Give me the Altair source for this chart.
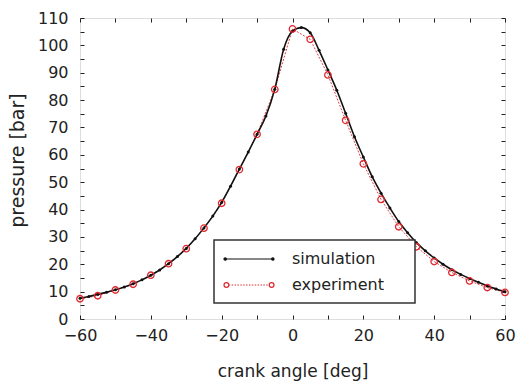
import altair as alt
import pandas as pd

# experiment (red circles), every 5 deg
exp_angle = [-60, -55, -50, -45, -40, -35, -30, -25, -20, -15, -10, -5, 0,
             5, 10, 15, 20, 25, 30, 35, 40, 45, 50, 55, 60]
exp_pressure = [7.4, 8.5, 10.6, 12.7, 16.0, 20.2, 25.7, 33.2, 42.3, 54.6, 67.5, 83.9, 106.0,
                102.2, 89.2, 72.6, 56.7, 43.7, 33.7, 26.4, 21.0, 17.0, 13.9, 11.5, 9.7]

# simulation (black line), every 2.5 deg
sim_angle = [-60, -57.5, -55, -52.5, -50, -47.5, -45, -42.5, -40, -37.5, -35, -32.5, -30,
             -27.5, -25, -22.5, -20, -17.5, -15, -12.5, -10, -7.5, -5, -2.5, 0, 2.5,
             5, 7.5, 10, 12.5, 15, 17.5, 20, 22.5, 25, 27.5, 30, 32.5, 35, 37.5,
             40, 42.5, 45, 47.5, 50, 52.5, 55, 57.5, 60]
sim_pressure = [7.6, 8.2, 9.0, 9.8, 10.7, 11.7, 12.9, 14.3, 16.0, 17.9, 20.2, 22.8, 25.8,
                29.3, 33.3, 37.6, 42.6, 48.5, 54.8, 61.0, 67.5, 74.2, 84.0, 98.6, 105.2, 106.5,
                104.6, 98.2, 91.0, 83.6, 75.2, 66.6, 59.2, 52.0, 46.0, 40.6, 35.6, 31.5, 27.9, 24.9,
                22.3, 20.0, 18.0, 16.3, 14.8, 13.4, 12.1, 11.0, 10.0]

series_names = ["simulation", "experiment"]
series_colors = ["#111111", "#e0282e"]

exp_df = pd.DataFrame({"angle": exp_angle, "pressure": exp_pressure, "series": "experiment"})
sim_df = pd.DataFrame({"angle": sim_angle, "pressure": sim_pressure, "series": "simulation"})

FONT = "DejaVu Sans"
INK = "#222222"
xscale = alt.Scale(domain=[-60, 60], nice=False, zero=False)
yscale = alt.Scale(domain=[0, 110], nice=False, zero=False)


# legend symbol glyphs (SVG paths in symbol units)
def circ(cx, r):
    return (f"M{cx + r:.3f},0A{r},{r},0,1,1,{cx - r:.3f},0"
            f"A{r},{r},0,1,1,{cx + r:.3f},0")


L = 3.125
sim_path = f"M{-L},0H{L}" + circ(-L + 0.15, 0.15) + circ(L - 0.15, 0.15)
rc = 0.3
dots = ""
xx = -L + 2 * rc
while xx < L - 2 * rc - 0.05:
    dots += f"M{xx:.3f},0H{min(xx + 0.18, L - 2 * rc):.3f}"
    xx += 0.36
exp_path = dots + circ(-L + rc, rc) + circ(L - rc, rc)

axis_common = dict(grid=False, domain=False, labelFlush=False, labelFont=FONT,
                   titleFont=FONT, labelColor=INK, titleColor=INK, tickColor=INK,
                   titleFontWeight="normal", labelFontSize=16)

x_bottom = alt.X("angle:Q", scale=xscale, title="crank angle [deg]",
                 axis=alt.Axis(values=list(range(-60, 61, 10)),
                               labelExpr="datum.value % 20 == 0 ? datum.label : ''",
                               tickSize={"expr": "-4"}, labelPadding=12,
                               titleFontSize=17, titlePadding=20, **axis_common))
y_left = alt.Y("pressure:Q", scale=yscale, title="pressure [bar]",
               axis=alt.Axis(values=list(range(0, 111, 5)),
                             labelExpr="datum.value % 10 == 0 ? datum.label : ''",
                             tickSize={"expr": "-4"}, labelPadding=16,
                             titleFontSize=19, titlePadding=10, titleY=142, **axis_common))
x_top = alt.X("angle:Q", scale=xscale,
              axis=alt.Axis(orient="top", values=list(range(-60, 61, 10)), labels=False,
                            title=None, tickSize={"expr": "-4"}, grid=False, domain=False,
                            tickColor=INK))
y_right = alt.Y("pressure:Q", scale=yscale,
                axis=alt.Axis(orient="right", values=list(range(0, 111, 5)), labels=False,
                              title=None, tickSize={"expr": "-4"}, grid=False, domain=False,
                              tickColor=INK))
x_none = alt.X("angle:Q", scale=xscale, axis=None)
y_none = alt.Y("pressure:Q", scale=yscale, axis=None)

exp_line = alt.Chart(exp_df).mark_line(color=series_colors[1], strokeWidth=0.9,
                                       strokeDash=[2, 1.5]).encode(x=x_bottom, y=y_left)
sim_line = alt.Chart(sim_df).mark_line(color=series_colors[0], strokeWidth=1.6,
                                       interpolate="monotone").encode(x=x_top, y=y_right)
sim_pts = alt.Chart(sim_df).mark_point(shape="circle", filled=True, size=9,
                                       color=series_colors[0], opacity=1).encode(x=x_none, y=y_none)
exp_pts = alt.Chart(exp_df).mark_point(shape="circle", filled=False, size=42, strokeWidth=1.3,
                                       color=series_colors[1], opacity=1).encode(x=x_none, y=y_none)

legend_opts = dict(title=None, orient="none", legendX=134, legendY=222,
                   symbolSize=256, symbolOffset=16, labelOffset=34,
                   padding=10, rowPadding=9, strokeColor="#333333",
                   fillColor="white", labelFontSize=16, labelFont=FONT,
                   labelColor=INK, symbolStrokeWidth=1.2,
                   symbolFillColor="transparent",
                   labelExpr="datum.label + '\u00a0\u00a0\u00a0\u00a0\u200b'")

legend_layer = alt.Chart(exp_df).transform_filter("datum.angle > 1000").mark_point(
    filled=False, strokeWidth=1.2, opacity=1
).encode(
    x=x_none, y=y_none,
    color=alt.Color("series:N", scale=alt.Scale(domain=series_names, range=series_colors),
                    legend=alt.Legend(**legend_opts)),
    shape=alt.Shape("series:N", scale=alt.Scale(domain=series_names, range=[sim_path, exp_path]),
                    legend=alt.Legend(**legend_opts)),
)

chart = alt.layer(exp_line, sim_line, sim_pts, exp_pts, legend_layer).resolve_axis(
    x="independent", y="independent"
).properties(
    width=425, height=301,
    autosize=alt.AutoSizeParams(type="none"),
    padding={"left": 80, "top": 18, "right": 11, "bottom": 62},
).configure_view(stroke="#222222", strokeWidth=1.4).configure(
    background="white"
).configure_legend(strokeWidth=1.5)

chart.save("out.html", embed_options={"renderer": "svg", "actions": False})
